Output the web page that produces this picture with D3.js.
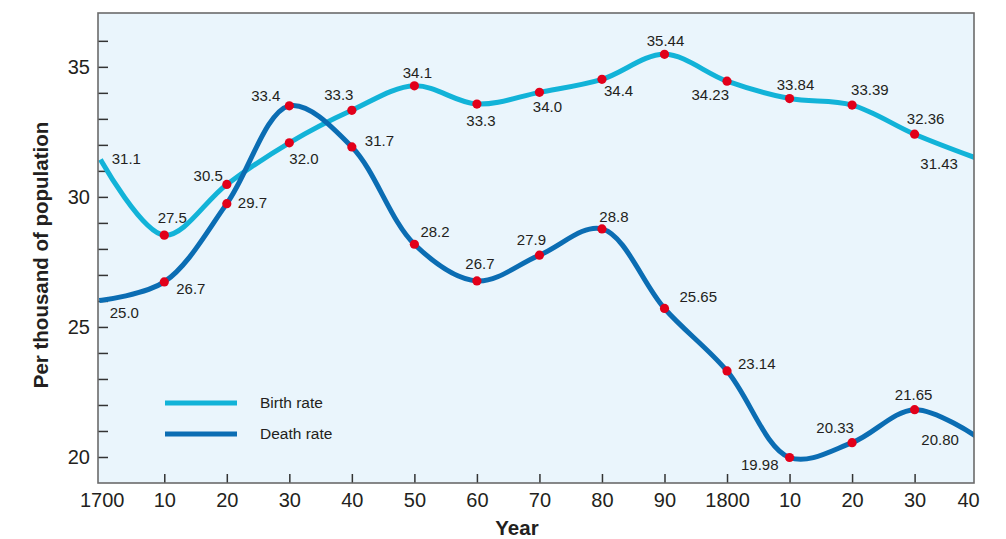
<!DOCTYPE html>
<html>
<head>
<meta charset="utf-8">
<script src="https://cdn.jsdelivr.net/npm/d3@7"></script>
<style>
  body { margin: 0; background: #fff; }
  text { font-family: "Liberation Sans", Arial, Helvetica, sans-serif; fill: #231f20; }
</style>
</head>
<body>
<div id="chart-container"></div>
<script>
// data
var years = [1700, 1710, 1720, 1730, 1740, 1750, 1760, 1770, 1780, 1790, 1800, 1810, 1820, 1830, 1840];
var birth_rate = [31.35, 28.53, 30.48, 32.08, 33.33, 34.27, 33.57, 34.02, 34.52, 35.48, 34.45, 33.78, 33.53, 32.41, 31.48];
var death_rate = [26.03, 26.73, 29.74, 33.5, 31.92, 28.18, 26.77, 27.76, 28.77, 25.71, 23.31, 19.98, 20.55, 21.82, 20.77];
var birth_labels = ["31.1", "27.5", "30.5", "32.0", "33.3", "34.1", "33.3", "34.0", "34.4", "35.44", "34.23", "33.84", "33.39", "32.36", "31.43"];
var death_labels = ["25.0", "26.7", "29.7", "33.4", "31.7", "28.2", "26.7", "27.9", "28.8", "25.65", "23.14", "19.98", "20.33", "21.65", "20.80"];
var x_tick_labels = ["1700", "10", "20", "30", "40", "50", "60", "70", "80", "90", "1800", "10", "20", "30", "40"];
var y_tick_values = [20, 25, 30, 35];
var series_names = ["Birth rate", "Death rate"];

var svg_width = 1006;
var svg_height = 539;
var plot = {left: 98, right: 974, top: 13, bottom: 483};

var birth_color = "#12b3d8";
var death_color = "#0b6db3";
var dot_color = "#e2001a";

// label placement: [anchor, dx, dy]
var birth_label_pos = [
  ["start", 10, 2], ["middle", 8, -12], ["end", -4, -3], ["start", 0, 21], ["middle", -13, -10],
  ["middle", 3, -8], ["middle", 4, 22], ["middle", 8, 20], ["start", 2, 17], ["middle", 1, -8],
  ["end", 2, 19], ["middle", 6, -9], ["start", -1, -10], ["middle", 11, -10], ["middle", -38, 11]
];
var death_label_pos = [
  ["start", 8, 18], ["start", 12, 12], ["start", 11, 4], ["end", -9, -5], ["start", 13, -1],
  ["start", 6, -7], ["middle", 3, -12], ["middle", -8, -10], ["middle", 12, -7], ["start", 15, -6],
  ["start", 11, -2], ["end", -11, 12], ["middle", -17, -10], ["middle", -1, -10], ["middle", -37, 8]
];

var svg = d3.select("#chart-container")
  .append("svg")
  .attr("width", svg_width)
  .attr("height", svg_height);

// the frame runs a little past 1700 and short of 1840
var x = d3.scaleLinear()
  .domain([1699.4, 1839.5])
  .range([plot.left, plot.right]);

var y = d3.scaleLinear()
  .domain([19, 37.07])
  .range([plot.bottom, plot.top]);

svg.append("rect")
  .attr("x", plot.left)
  .attr("y", plot.top)
  .attr("width", plot.right - plot.left)
  .attr("height", plot.bottom - plot.top)
  .attr("fill", "#eaf5fc");

svg.append("clipPath")
  .attr("id", "plot-clip")
  .append("rect")
  .attr("x", plot.left)
  .attr("y", plot.top)
  .attr("width", plot.right - plot.left)
  .attr("height", plot.bottom - plot.top);

// y axis: minor ticks every unit, labels at 5s
var y_axis = d3.axisLeft(y)
  .tickValues(d3.range(20, 37))
  .tickSize(-10)
  .tickFormat(function(d) { return y_tick_values.indexOf(d) >= 0 ? d : ""; });

var gy = svg.append("g")
  .attr("transform", "translate(" + plot.left + ",0)")
  .call(y_axis);
gy.select(".domain").remove();
gy.selectAll(".tick line").attr("stroke", "#333").attr("stroke-width", 1.5);
gy.selectAll(".tick text")
  .attr("x", -8)
  .style("font-size", "20px")
  .style("font-family", "'Liberation Sans', Arial, sans-serif")
  .attr("fill", "#231f20");

var x_axis = d3.axisBottom(x)
  .tickValues(years)
  .tickSize(-9)
  .tickFormat(function(d, i) { return x_tick_labels[i]; });

var gx = svg.append("g")
  .attr("transform", "translate(0," + plot.bottom + ")")
  .call(x_axis);
gx.select(".domain").remove();
gx.selectAll(".tick line")
  .attr("stroke", "#333")
  .attr("stroke-width", 1.5)
  .style("display", function(d, i) { return (i == 0 || i == years.length - 1) ? "none" : null; });
gx.selectAll(".tick text")
  .attr("y", 10)
  .attr("dx", function(d, i) { return i == years.length - 1 ? -9 : 0; })
  .style("font-size", "20px")
  .style("font-family", "'Liberation Sans', Arial, sans-serif")
  .attr("fill", "#231f20");

var rate_line = d3.line()
  .x(function(d, i) { return x(years[i]); })
  .y(function(d) { return y(d); })
  .curve(d3.curveCatmullRom);

var lines_g = svg.append("g").attr("clip-path", "url(#plot-clip)");

lines_g.append("path")
  .attr("d", rate_line(birth_rate))
  .attr("fill", "none")
  .attr("stroke", birth_color)
  .attr("stroke-width", 5)
  .attr("stroke-linecap", "square");

lines_g.append("path")
  .attr("d", rate_line(death_rate))
  .attr("fill", "none")
  .attr("stroke", death_color)
  .attr("stroke-width", 5)
  .attr("stroke-linecap", "square");

function draw_series(values, labels, pos) {
  var g = svg.append("g");
  g.selectAll(".dot")
    .data(values.slice(1, values.length - 1))
    .enter()
    .append("circle")
    .attr("class", "dot")
    .attr("cx", function(d, i) { return x(years[i + 1]); })
    .attr("cy", function(d) { return y(d); })
    .attr("r", 4.6)
    .attr("fill", dot_color);

  g.selectAll(".value-label")
    .data(values)
    .enter()
    .append("text")
    .attr("class", "value-label")
    .attr("x", function(d, i) { return x(years[i]) + pos[i][1]; })
    .attr("y", function(d, i) { return y(d) + pos[i][2]; })
    .attr("text-anchor", function(d, i) { return pos[i][0]; })
    .style("font-size", "15px")
    .text(function(d, i) { return labels[i]; });
}

draw_series(birth_rate, birth_labels, birth_label_pos);
draw_series(death_rate, death_labels, death_label_pos);

// border
svg.append("rect")
  .attr("x", plot.left)
  .attr("y", plot.top)
  .attr("width", plot.right - plot.left)
  .attr("height", plot.bottom - plot.top)
  .attr("fill", "none")
  .attr("stroke", "#6b6b6b")
  .attr("stroke-width", 1.6);

// legend
var legend = svg.append("g");
var legend_colors = [birth_color, death_color];
legend.selectAll("line")
  .data(series_names)
  .enter()
  .append("line")
  .attr("x1", 165)
  .attr("x2", 237)
  .attr("y1", function(d, i) { return 403 + i * 31; })
  .attr("y2", function(d, i) { return 403 + i * 31; })
  .attr("stroke", function(d, i) { return legend_colors[i]; })
  .attr("stroke-width", 5);
legend.selectAll("text")
  .data(series_names)
  .enter()
  .append("text")
  .attr("x", 260)
  .attr("y", function(d, i) { return 408 + i * 31; })
  .style("font-size", "15.5px")
  .text(function(d) { return d; });

// axis titles
svg.append("text")
  .attr("transform", "translate(48,255) rotate(-90)")
  .attr("text-anchor", "middle")
  .style("font-size", "20.5px")
  .style("font-weight", "bold")
  .text("Per thousand of population");

svg.append("text")
  .attr("x", 517)
  .attr("y", 535)
  .attr("text-anchor", "middle")
  .style("font-size", "20.5px")
  .style("font-weight", "bold")
  .text("Year");
</script>
</body>
</html>
